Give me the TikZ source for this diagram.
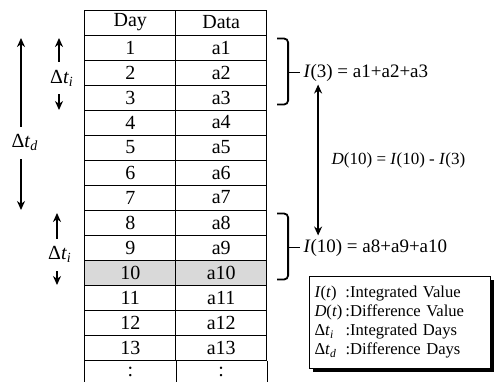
\documentclass[tikz,border=0pt]{standalone}
\usepackage{fontspec}
\setmainfont{Liberation Serif}
\usetikzlibrary{arrows.meta,calc,shadows}

\newcommand{\dti}{Δ\textit{t}\textsubscript{\textit{i}}}
\newcommand{\dtd}{Δ\textit{t}\textsubscript{\textit{d}}}
\newcommand{\legkey}[1]{\makebox[15.5pt][l]{#1}}

\begin{document}
\begin{tikzpicture}[
    x=0.5pt, y=-0.5pt,
    >={Stealth[length=4.5pt,width=4pt]},
    cell/.style    = {draw, line width=0.5pt, minimum width=45.4pt,
                      minimum height=12.5pt, inner sep=0pt, font=\fontsize{10}{12}\selectfont},
    shaded/.style  = {cell, fill=black!15},
    brace/.style   = {draw, line width=0.9pt, rounded corners=2pt},
    formula/.style = {anchor=west, inner sep=1.5pt, font=\fontsize{9.5}{11}\selectfont},
    span/.style    = {draw, <->, line width=0.9pt},
    spanlbl/.style = {fill=white, inner xsep=0pt, inner ysep=4pt, font=\fontsize{10}{12}\selectfont},
    legend/.style  = {draw, line width=0.5pt, fill=white, anchor=north west,
                      drop shadow={shadow xshift=1.5pt, shadow yshift=-1.5pt, fill=black, opacity=1},
                      text width=85.5pt, align=left, minimum height=46pt, inner xsep=2.5pt,
                      font=\fontsize{8.3}{9.5}\selectfont}
]
\useasboundingbox (0,0) rectangle (494,382);

% =========================================================
% TABLE
% =========================================================
\node[cell] (day0)  at (130.3,22.5) {Day};
\node[cell] (data0) at (221.2,22.5) {Data};
\foreach \i in {1,...,13} {
  \ifnum\i=10 \def\cellstyle{shaded}\else \def\cellstyle{cell}\fi
  \node[\cellstyle] (day\i)  at (130.3,22.5+25*\i) {\i};
  \node[\cellstyle] (data\i) at (221.2,22.5+25*\i) {a\i};
}

% last row, cut off at the bottom
\coordinate (tblend) at (0,382);
\draw[line width=0.5pt] (day13.south west) -- (day13.south west |- tblend);
\draw[line width=0.5pt] (day13.south east) -- (day13.south east |- tblend);
\draw[line width=0.5pt] (data13.south east) -- (data13.south east |- tblend);
\node[font=\fontsize{10}{12}\selectfont] (dayvd)  at (130.3,372) {:};
\node[font=\fontsize{10}{12}\selectfont] (datavd) at (221.2,372) {:};

% =========================================================
% BRACES AND FORMULAS
% =========================================================
\draw[brace] ($(data1.north east)+(10,4)$) -- ($(data1.north east)+(21,4)$)
             -- ($(data3.south east)+(21,-6)$) -- ($(data3.south east)+(10,-6)$);
\node[formula] (isum3) at ($(data2.east)+(33,0)$) {\textit{I}(3) = a1+a2+a3};
\draw[line width=0.9pt] ($(data2.east)+(21,0)$) -- (isum3.west);

\draw[brace] ($(data8.north east)+(10,4)$) -- ($(data8.north east)+(21,4)$)
             -- ($(data10.south east)+(21,-6)$) -- ($(data10.south east)+(10,-6)$);
\node[formula] (isum10) at ($(data9.east)+(33,0)$) {\textit{I}(10) = a8+a9+a10};
\draw[line width=0.9pt] ($(data9.east)+(21,0)$) -- (isum10.west);

% =========================================================
% DIFFERENCE ARROW
% =========================================================
\path[span] ($(isum3.south west)+(18,0)$) -- node[right=3pt, font=\fontsize{8.5}{10}\selectfont] (diff)
   {\textit{D}(10) = \textit{I}(10) - \textit{I}(3)} ($(isum10.north west)+(18,0)$);

% =========================================================
% SPANS ON THE LEFT
% =========================================================
\coordinate (tdtop) at (21,38);
\coordinate (tdbot) at (21,210);
\path[span] (tdtop) -- node[spanlbl, pos=0.61, xshift=2pt] (td) {\dtd} (tdbot);

\coordinate (ti1top) at (59,38);
\coordinate (ti1bot) at (59,110);
\path[span] (ti1top) -- node[spanlbl, pos=0.56, xshift=1.5pt] (ti1) {\dti} (ti1bot);

\coordinate (ti2top) at (57,213);
\coordinate (ti2bot) at (57,285);
\path[span] (ti2top) -- node[spanlbl, pos=0.58, xshift=1.5pt] (ti2) {\dti} (ti2bot);

% =========================================================
% LEGEND
% =========================================================
\node[legend] (legend) at (309,276) {%
  \legkey{\textit{I}(\textit{t})}:Integrated Value\\
  \legkey{\textit{D}(\textit{t})}:Difference Value\\
  \legkey{\dti}:Integrated Days\\
  \legkey{\dtd}:Difference Days};

\end{tikzpicture}
\end{document}
